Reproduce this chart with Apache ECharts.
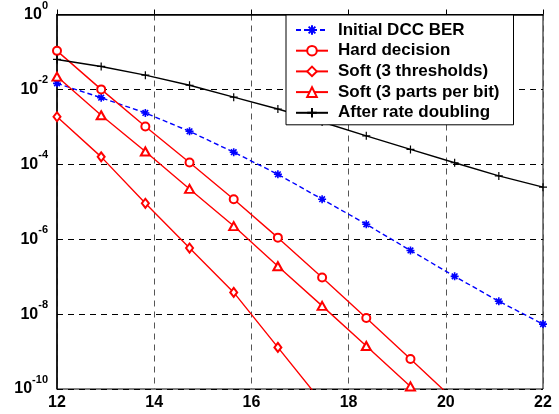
<!DOCTYPE html>
<html>
<head>
<meta charset="utf-8">
<script src="https://cdn.jsdelivr.net/npm/echarts@6/dist/echarts.min.js"></script>
<style>html,body{margin:0;padding:0;background:#fff;}#c{width:559px;height:414px;}</style>
</head>
<body>
<div id="c"></div>
<script>
// x positions (dB)
const xValues = [12, 12.909, 13.818, 14.727, 15.636, 16.545, 17.455, 18.364, 19.273, 20.182, 21.091, 22];
// BER values per series
const initialDCC = [1.45e-2, 6.0e-3, 2.35e-3, 7.6e-4, 2.1e-4, 5.4e-5, 1.17e-5, 2.5e-6, 5.0e-7, 1.02e-7, 2.2e-8, 5.4e-9];
const hardDecision = [1.07e-1, 1.0e-2, 1.02e-3, 1.12e-4, 1.17e-5, 1.1e-6, 9.5e-8, 7.9e-9, 6.3e-10, 5.0e-11];
const soft3Thresholds = [1.86e-3, 1.58e-4, 9.1e-6, 5.8e-7, 3.8e-8, 1.29e-9, 4.4e-11];
const soft3Parts = [2.2e-2, 2.04e-3, 2.2e-4, 2.2e-5, 2.24e-6, 1.9e-7, 1.66e-8, 1.41e-9, 1.17e-10, 1.0e-11];
const afterRateDoubling = [6.3e-2, 4.1e-2, 2.4e-2, 1.29e-2, 6.2e-3, 3.0e-3, 1.35e-3, 5.75e-4, 2.5e-4, 1.1e-4, 4.9e-5, 2.45e-5];
const seriesNames = ['Initial DCC BER', 'Hard decision', 'Soft (3 thresholds)', 'Soft (3 parts per bit)', 'After rate doubling'];
const xTicks = [12, 14, 16, 18, 20, 22];
const yExponents = [0, -2, -4, -6, -8, -10];

const FONT = '"Liberation Sans", Arial, sans-serif';
function pts(arr) { return arr.map((v, i) => [xValues[i], Math.log10(v)]); }

const STAR = 'path://M5,0L5,10M0,5L10,5M1.5,1.5L8.5,8.5M8.5,1.5L1.5,8.5';
const PLUS = 'path://M5,0L5,10M0,5L10,5';

function mk(name, data, color, symbol, size, dashed, bw) {
  return {
    name: name, type: 'line', data: pts(data),
    symbol: symbol, symbolSize: size,
    lineStyle: { color: color, width: 1.4, type: dashed ? [5, 3] : 'solid' },
    itemStyle: { color: color, borderColor: color, borderWidth: bw },
    emphasis: { disabled: true },
    animation: false, clip: true
  };
}

const chart = echarts.init(document.getElementById('c'), null, { renderer: 'canvas' });
chart.setOption({
  animation: false,
  backgroundColor: '#fff',
  grid: { left: 57, top: 14.5, right: 16, bottom: 25, show: true, borderColor: '#000', borderWidth: 1, backgroundColor: 'transparent' },
  legend: {
    orient: 'vertical', left: 286, top: 15,
    backgroundColor: '#fff', borderColor: '#000', borderWidth: 1, borderRadius: 0,
    padding: [6, 14, 3, 9], itemWidth: 32, itemHeight: 12, itemGap: 2.7,
    textStyle: { fontFamily: FONT, fontWeight: 'bold', fontSize: 17, color: '#000', lineHeight: 18, padding: [0, 0, 0, 5] },
    data: seriesNames
  },
  xAxis: {
    type: 'value', min: 12, max: 22, interval: 2,
    axisLine: { show: true, lineStyle: { color: '#000', width: 1.5 } },
    axisTick: { show: true, inside: true, length: 5, lineStyle: { color: '#000' } },
    axisLabel: { fontFamily: FONT, fontWeight: 'bold', fontSize: 16, color: '#000', margin: 6,
      formatter: v => xTicks.indexOf(v) >= 0 ? String(v) : '' },
    splitLine: { show: true, lineStyle: { color: '#555', type: [6, 5], width: 1 } }
  },
  yAxis: {
    type: 'value', min: -10, max: 0, interval: 2,
    axisLine: { show: true, lineStyle: { color: '#000', width: 1.5 } },
    axisTick: { show: true, inside: true, length: 5, lineStyle: { color: '#000' } },
    axisLabel: {
      margin: 9, color: '#000',
      formatter: v => yExponents.indexOf(v) >= 0 ? '{a|10}{b|' + v + '}' : '',
      rich: {
        a: { fontFamily: FONT, fontWeight: 'bold', fontSize: 16, color: '#000', lineHeight: 18 },
        b: { fontFamily: FONT, fontWeight: 'bold', fontSize: 11, color: '#000', lineHeight: 12, padding: [0, 0, 18, 0] }
      }
    },
    splitLine: { show: true, lineStyle: { color: '#000', type: [6, 5], width: 1 } }
  },
  series: [
    mk(seriesNames[0], initialDCC, '#0000ff', STAR, 8, true, 1.6),
    mk(seriesNames[1], hardDecision, '#ff0000', 'emptyCircle', 8, false, 1.2),
    mk(seriesNames[2], soft3Thresholds, '#ff0000', 'emptyDiamond', [7, 9], false, 1.2),
    mk(seriesNames[3], soft3Parts, '#ff0000', 'emptyTriangle', [9, 8], false, 1.2),
    mk(seriesNames[4], afterRateDoubling, '#000000', PLUS, 8, false, 1.2)
  ]
});
</script>
</body>
</html>
